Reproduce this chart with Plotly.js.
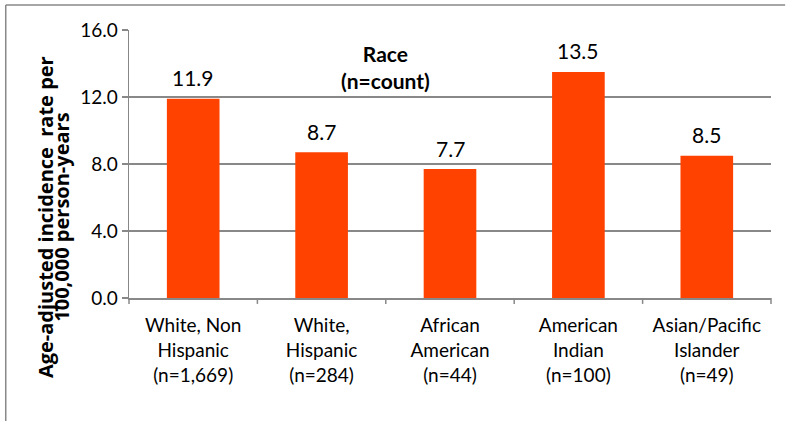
<!DOCTYPE html>
<html>
<head>
<meta charset="utf-8">
<script src="https://cdn.plot.ly/plotly-3.0.1.min.js"></script>
<style>
html,body{margin:0;padding:0;background:#fff;}
#chart{width:788px;height:421px;}
</style>
</head>
<body>
<div id="chart"></div>
<script>
const categories = [
  "White, Non<br>Hispanic<br>(n=1,669)",
  "White,<br>Hispanic<br>(n=284)",
  "African<br>American<br>(n=44)",
  "American<br>Indian<br>(n=100)",
  "Asian/Pacific<br>Islander<br>(n=49)"
];
const rates = [11.9, 8.7, 7.7, 13.5, 8.5];
const rateLabels = ["11.9", "8.7", "7.7", "13.5", "8.5"];
const yTicks = [0, 4, 8, 12, 16];
const yTickLabels = ["0.0", "4.0", "8.0", "12.0", "16.0"];
const yTitleLines = ["Age-adjusted incidence&nbsp; rate per", "100,000 person-years"];
const legendTitle = "Race<br>(n=count)";

const FONT = "Lato, 'Open Sans', sans-serif";
const TITLE_FONT = "'Open Sans', Lato, sans-serif";

const trace = {
  type: "bar",
  x: categories,
  y: rates,
  marker: {color: "#FF4200"},
  width: 0.41,
  hoverinfo: "none"
};

const valueAnnotations = categories.map((c, i) => ({
  xref: "x", yref: "y", x: c, y: rates[i],
  text: rateLabels[i], showarrow: false,
  xanchor: "center", yanchor: "middle", yshift: 21,
  font: {family: FONT, size: 21, color: "#000"}
}));

const layout = {
  width: 788, height: 421,
  margin: {l: 129, r: 17, t: 30, b: 123},
  paper_bgcolor: "#fff",
  plot_bgcolor: "#fff",
  showlegend: false,
  font: {family: FONT, size: 19, color: "#000"},
  xaxis: {
    type: "category",
    showline: true, linecolor: "#888", linewidth: 1.5,
    ticks: "outside", ticklen: 10, tickcolor: "rgba(0,0,0,0)",
    showgrid: false,
    tickfont: {family: FONT, size: 19, color: "#000"},
    automargin: false
  },
  yaxis: {
    range: [0, 16],
    tickvals: yTicks,
    ticktext: yTickLabels,
    showline: true, linecolor: "#888", linewidth: 1.5,
    ticks: "outside", ticklen: 6, tickcolor: "#888", tickwidth: 1.5,
    showgrid: true, gridcolor: "#888", gridwidth: 1.3,
    zeroline: false,
    tickfont: {family: FONT, size: 19, color: "#000"},
    automargin: false
  },
  annotations: [
    {
      xref: "paper", yref: "paper", x: 0.399, y: 0.862,
      xanchor: "center", yanchor: "middle",
      text: "<b>" + legendTitle + "</b>", showarrow: false,
      font: {family: FONT, size: 21, color: "#000"},
      align: "center"
    },
    {
      xref: "paper", yref: "paper", x: -0.1308, y: 0.302,
      xanchor: "center", yanchor: "middle",
      text: "<b>" + yTitleLines[0] + "</b>", showarrow: false, textangle: -90,
      font: {family: TITLE_FONT, size: 20, color: "#000"}
    },
    {
      xref: "paper", yref: "paper", x: -0.1065, y: 0.302,
      xanchor: "center", yanchor: "middle",
      text: "<b>" + yTitleLines[1] + "</b>", showarrow: false, textangle: -90,
      font: {family: TITLE_FONT, size: 20, color: "#000"}
    },
    ...valueAnnotations
  ],
  shapes: [
    {type: "line", xref: "paper", yref: "paper", x0: -0.192, x1: 1.022, y0: 1.093, y1: 1.093, line: {color: "#888", width: 1.5}},
    {type: "line", xref: "paper", yref: "paper", x0: -0.192, x1: -0.192, y0: 1.093, y1: -0.47, line: {color: "#888", width: 1.5}},
    ...[0,1,2,3,4,5].map(i => ({
      type: "line", xref: "paper", yref: "paper",
      x0: i/5, x1: i/5, y0: 0, y1: -0.022,
      line: {color: "#888", width: 1.5}
    }))
  ]
};

Plotly.newPlot("chart", [trace], layout, {displayModeBar: false, staticPlot: true});
</script>
</body>
</html>
